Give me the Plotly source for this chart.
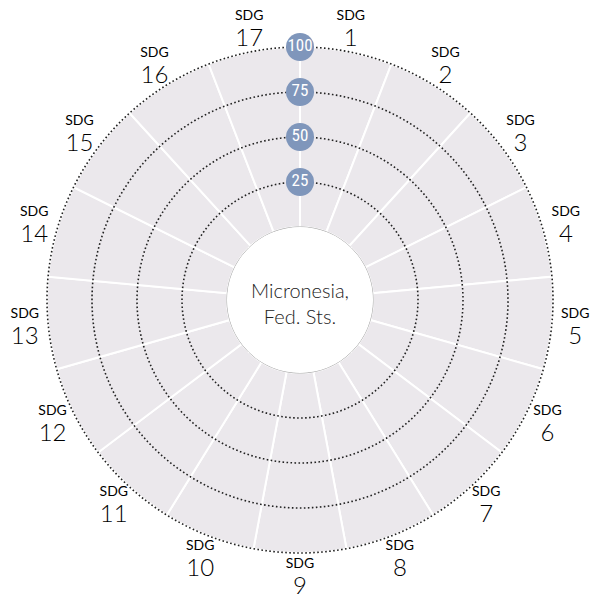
import numpy as np
import plotly.graph_objects as go

country = "Micronesia,<br>Fed. Sts."
sdg_numbers = list(range(1, 18))
sdg_scores = [100] * 17          # full background sectors (no score bars visible)
grid_levels = [25, 50, 75, 100]
label_radius = 113               # label ring, just outside the 100 ring
radial_max = 120                 # room for the labels inside the polar range

sector = 360 / len(sdg_numbers)
thetas = [(n - 0.5) * sector for n in sdg_numbers]
labels = [f"<span style='font-size:14px;font-weight:400'>SDG</span><br><span style='font-size:24px'>{n}</span>"
          for n in sdg_numbers]

FONT = "Lato, Noto Sans, sans-serif"
fig = go.Figure()

fig.add_trace(go.Barpolar(
    r=sdg_scores, theta=thetas, width=[sector] * len(sdg_numbers),
    marker=dict(color="#EBE8EC", line=dict(color="white", width=2)),
    hoverinfo="skip", showlegend=False))

circle_theta = np.linspace(0, 360, 721)
for lvl in grid_levels:
    fig.add_trace(go.Scatterpolar(
        r=[lvl] * len(circle_theta), theta=circle_theta, mode="lines",
        line=dict(color="#222222", width=1.6, dash="1.6px,2.4px"),
        hoverinfo="skip", showlegend=False))

fig.add_trace(go.Scatterpolar(
    r=[0] * len(circle_theta), theta=circle_theta, mode="lines",
    line=dict(color="#999999", width=1),
    hoverinfo="skip", showlegend=False))

fig.add_trace(go.Scatterpolar(
    r=grid_levels, theta=[0] * len(grid_levels), mode="markers+text",
    text=[str(v) for v in grid_levels], textposition="middle center",
    textfont=dict(color="white", size=17, family="Liberation Sans Narrow, Roboto Condensed, sans-serif"),
    marker=dict(color="#7F96BB", size=28),
    hoverinfo="skip", showlegend=False, cliponaxis=False))

fig.add_trace(go.Scatterpolar(
    r=[label_radius] * len(sdg_numbers), theta=thetas, mode="text",
    text=labels, textposition="middle center",
    textfont=dict(size=20, color="#000000", family=FONT, weight=300),
    hoverinfo="skip", showlegend=False, cliponaxis=False))

fig.update_layout(
    width=600, height=594,
    margin=dict(l=3, r=19, t=3, b=13),
    paper_bgcolor="white",
    font=dict(family=FONT, color="#222222"),
    polar=dict(
        bgcolor="white",
        hole=73 / 289,
        radialaxis=dict(range=[0, radial_max], visible=False),
        angularaxis=dict(
            rotation=90, direction="clockwise",
            showticklabels=False, showgrid=False, showline=False, ticks="",
        ),
    ),
    annotations=[dict(
        text=country, x=0.5, y=0.5, xref="paper", yref="paper", yshift=-3,
        showarrow=False, font=dict(size=20, color="#222222", family=FONT, weight=300),
    )],
)

fig.write_html("out.html")
